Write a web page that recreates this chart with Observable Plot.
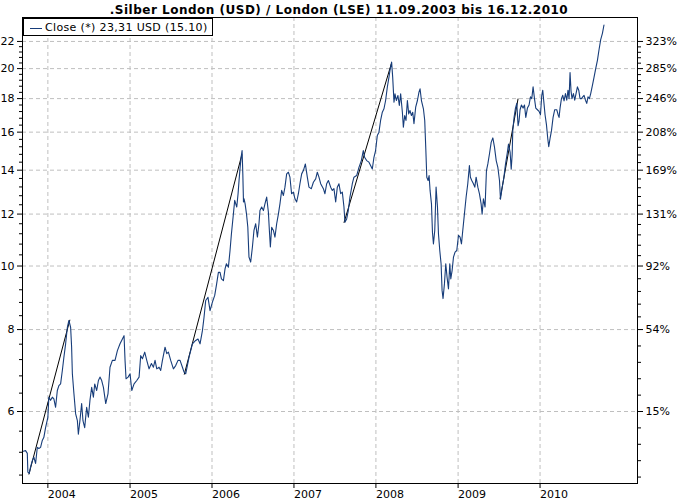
<!DOCTYPE html>
<html>
<head>
<meta charset="utf-8">
<script src="https://cdn.jsdelivr.net/npm/d3@7"></script>
<script src="https://cdn.jsdelivr.net/npm/@observablehq/plot@0.6"></script>
<style>
  html, body { margin: 0; padding: 0; background: #fff; }
  #wrap { position: relative; width: 678px; height: 501px; overflow: hidden; font-family: "DejaVu Sans", Verdana, sans-serif; }
  #title { position: absolute; left: 0; top: 3px; width: 678px; text-align: center; font-family: "DejaVu Sans", sans-serif; font-weight: bold; font-size: 12px; letter-spacing: 0.5px; line-height: 14px; color: #000; z-index: 2; white-space: nowrap; }
  #chart { position: absolute; left: 0; top: 14px; }
  #legend { position: absolute; left: 23px; top: 18px; width: 190px; height: 18px; box-sizing: border-box; border: 1px solid #000; background: #fff; z-index: 3; color: #000; }
  #legend .swatch { position: absolute; left: 6px; top: 9px; width: 12px; height: 1px; background: #173d7a; }
  #legendText { position: absolute; left: 21px; top: 2px; font-family: "DejaVu Sans", sans-serif; font-size: 11px; letter-spacing: 0.35px; line-height: 13px; white-space: nowrap; }
</style>
</head>
<body>
<div id="wrap">
  <div id="title"></div>
  <div id="chart"></div>
  <div id="legend"><span class="swatch"></span><span id="legendText"></span></div>
</div>
<script>
// ---- Texts ----
const titleText = ".Silber London (USD) / London (LSE) 11.09.2003 bis 16.12.2010";
const legendLabel = "Close (*) 23,31 USD (15.10)";

// ---- Axis ticks ----
const yearTicks = [2004, 2005, 2006, 2007, 2008, 2009, 2010];
const priceTicks = [6, 8, 10, 12, 14, 16, 18, 20, 22];
const percentBase = 5.2; // price that corresponds to 0 % on the right axis
const xDomain = ["2003-09-10", "2011-03-11"];
const yDomain = [4.66, 23.93];

// ---- Close prices: [decimal year, USD] ----
const close2003 = [[2003.700,5.22],[2003.728,5.23],[2003.749,5.18],[2003.756,4.85],[2003.773,4.83],[2003.789,4.94],[2003.810,5.05],[2003.829,5.11],[2003.850,5.00],[2003.871,5.29],[2003.890,5.27],[2003.911,5.29],[2003.932,5.42],[2003.951,5.48],[2003.972,5.67]];
const close2004 = [[2004.000,5.88],[2004.012,6.31],[2004.033,6.24],[2004.054,6.31],[2004.073,6.27],[2004.094,6.09],[2004.115,6.46],[2004.134,6.57],[2004.155,6.61],[2004.176,6.93],[2004.195,7.26],[2004.216,7.61],[2004.237,8.06],[2004.256,8.26],[2004.277,8.06],[2004.289,7.52],[2004.298,6.85],[2004.317,6.39],[2004.338,5.95],[2004.359,5.81],[2004.371,5.54],[2004.390,5.81],[2004.411,6.17],[2004.427,5.81],[2004.448,5.67],[2004.472,6.09],[2004.493,5.88],[2004.512,6.24],[2004.533,6.53],[2004.554,6.31],[2004.570,6.61],[2004.594,6.46],[2004.615,6.69],[2004.634,6.77],[2004.655,6.69],[2004.676,6.53],[2004.704,6.17],[2004.732,6.39],[2004.756,7.01],[2004.785,7.18],[2004.817,7.18],[2004.846,7.43],[2004.878,7.61],[2004.907,7.74],[2004.927,7.83],[2004.939,7.18],[2004.951,6.73],[2004.976,6.77]];
const close2005 = [[2005.000,6.85],[2005.021,6.46],[2005.049,6.61],[2005.082,6.69],[2005.110,6.77],[2005.130,7.30],[2005.151,7.22],[2005.179,7.39],[2005.204,7.18],[2005.232,6.97],[2005.261,7.10],[2005.285,7.01],[2005.305,7.18],[2005.326,6.97],[2005.354,7.01],[2005.374,6.93],[2005.395,7.18],[2005.415,7.39],[2005.427,7.52],[2005.448,7.35],[2005.468,7.39],[2005.496,7.18],[2005.529,6.97],[2005.557,7.05],[2005.585,7.18],[2005.610,7.18],[2005.639,7.01],[2005.659,6.89],[2005.679,6.85],[2005.720,7.26],[2005.761,7.61],[2005.801,7.70],[2005.829,7.74],[2005.854,7.61],[2005.883,7.97],[2005.902,8.34],[2005.923,8.86],[2005.951,8.96],[2005.976,8.55]];
const close2006 = [[2006.005,8.81],[2006.033,9.02],[2006.057,9.40],[2006.078,9.78],[2006.098,9.78],[2006.115,9.56],[2006.139,9.50],[2006.159,9.90],[2006.176,10.08],[2006.200,9.96],[2006.220,10.56],[2006.237,11.20],[2006.257,11.87],[2006.277,12.59],[2006.302,12.30],[2006.318,12.89],[2006.330,13.50],[2006.343,14.14],[2006.355,14.65],[2006.367,15.00],[2006.376,13.82],[2006.384,12.52],[2006.391,12.66],[2006.404,12.44],[2006.421,12.00],[2006.437,11.46],[2006.451,10.32],[2006.472,10.14],[2006.493,10.69],[2006.512,11.33],[2006.533,11.60],[2006.554,11.07],[2006.573,11.60],[2006.585,12.15],[2006.606,12.30],[2006.627,12.15],[2006.646,12.44],[2006.667,12.74],[2006.688,12.08],[2006.700,11.33],[2006.712,10.69],[2006.728,11.46],[2006.749,11.33],[2006.768,11.07],[2006.789,11.60],[2006.810,12.00],[2006.829,12.44],[2006.850,13.04],[2006.871,12.81],[2006.890,13.19],[2006.911,13.82],[2006.932,13.90],[2006.951,13.66],[2006.971,12.89],[2006.993,12.96]];
const close2007 = [[2007.012,12.66],[2007.033,12.52],[2007.054,12.89],[2007.073,13.35],[2007.094,13.82],[2007.115,13.98],[2007.139,14.31],[2007.163,13.66],[2007.183,13.19],[2007.212,13.12],[2007.237,13.42],[2007.265,13.58],[2007.285,13.90],[2007.305,13.66],[2007.326,13.35],[2007.359,13.12],[2007.378,12.89],[2007.399,13.35],[2007.420,13.50],[2007.448,13.19],[2007.468,13.04],[2007.488,13.12],[2007.509,12.52],[2007.529,13.19],[2007.549,13.35],[2007.570,12.89],[2007.590,12.96],[2007.610,12.30],[2007.622,11.66],[2007.643,11.80],[2007.663,12.15],[2007.683,12.74],[2007.712,13.35],[2007.732,13.66],[2007.765,13.74],[2007.793,14.14],[2007.822,14.48],[2007.846,15.00],[2007.862,14.65],[2007.887,14.48],[2007.915,14.40],[2007.935,14.23],[2007.956,14.06],[2007.976,14.65],[2007.996,15.00]];
const close2008 = [[2008.017,15.81],[2008.037,16.00],[2008.057,16.67],[2008.078,17.16],[2008.098,17.37],[2008.118,17.88],[2008.139,18.75],[2008.159,19.41],[2008.171,19.87],[2008.191,20.46],[2008.204,19.41],[2008.220,17.77],[2008.232,18.30],[2008.249,17.88],[2008.268,18.20],[2008.285,17.57],[2008.301,18.30],[2008.322,17.16],[2008.334,16.28],[2008.350,16.96],[2008.366,16.67],[2008.383,17.88],[2008.399,17.06],[2008.415,17.26],[2008.432,16.96],[2008.448,17.16],[2008.463,16.48],[2008.484,17.47],[2008.505,17.88],[2008.524,18.41],[2008.537,18.63],[2008.554,17.88],[2008.578,17.37],[2008.594,16.67],[2008.607,15.09],[2008.619,13.66],[2008.635,13.50],[2008.647,13.74],[2008.659,13.04],[2008.676,12.44],[2008.688,11.26],[2008.700,10.81],[2008.716,11.33],[2008.732,13.19],[2008.749,12.30],[2008.761,11.20],[2008.777,10.56],[2008.793,10.08],[2008.805,9.18],[2008.817,8.92],[2008.834,9.40],[2008.850,10.08],[2008.866,9.61],[2008.883,9.23],[2008.899,10.08],[2008.911,9.56],[2008.927,9.84],[2008.944,10.32],[2008.963,10.50],[2008.984,10.56]];
const close2009 = [[2009.005,11.14],[2009.024,11.07],[2009.041,10.81],[2009.057,11.33],[2009.077,12.00],[2009.098,12.74],[2009.118,13.35],[2009.138,14.23],[2009.150,13.66],[2009.167,13.50],[2009.187,13.35],[2009.204,13.19],[2009.220,13.66],[2009.241,13.19],[2009.260,12.89],[2009.281,12.44],[2009.293,12.00],[2009.309,12.66],[2009.329,12.30],[2009.346,13.98],[2009.363,14.31],[2009.383,14.83],[2009.404,15.45],[2009.424,15.68],[2009.444,15.18],[2009.465,14.48],[2009.485,14.14],[2009.505,13.50],[2009.517,12.64],[2009.537,13.15],[2009.558,13.63],[2009.578,14.29],[2009.598,14.81],[2009.615,15.34],[2009.635,14.90],[2009.648,14.05],[2009.660,14.81],[2009.667,16.07],[2009.683,16.85],[2009.700,17.41],[2009.716,17.70],[2009.732,16.37],[2009.744,16.65],[2009.756,17.31],[2009.773,17.60],[2009.793,17.41],[2009.810,17.60],[2009.826,16.85],[2009.846,17.41],[2009.866,17.60],[2009.883,18.11],[2009.899,18.00],[2009.915,18.76],[2009.932,18.00],[2009.948,17.41],[2009.968,17.31],[2009.988,17.21]];
const close2010 = [[2010.005,17.01],[2010.021,18.21],[2010.033,18.54],[2010.045,17.86],[2010.061,17.01],[2010.078,16.43],[2010.094,15.65],[2010.106,15.20],[2010.122,15.65],[2010.139,16.07],[2010.159,16.85],[2010.179,17.31],[2010.204,17.31],[2010.220,17.01],[2010.232,16.85],[2010.244,17.41],[2010.261,18.00],[2010.277,18.21],[2010.293,17.86],[2010.310,18.32],[2010.326,17.90],[2010.341,18.54],[2010.354,18.00],[2010.366,19.73],[2010.378,18.48],[2010.390,18.00],[2010.407,18.32],[2010.423,17.90],[2010.439,18.32],[2010.456,18.76],[2010.472,18.54],[2010.488,18.00],[2010.505,18.00],[2010.521,18.11],[2010.537,18.21],[2010.554,17.90],[2010.570,17.70],[2010.585,18.11],[2010.602,18.00],[2010.618,18.32],[2010.639,18.86],[2010.659,19.41],[2010.679,20.00],[2010.700,20.59],[2010.720,21.39],[2010.740,22.14],[2010.761,22.64],[2010.780,23.31]];

// ---- Trend lines (black) ----
const trendFromYear = [2003.768, 2005.661, 2007.610, 2009.512];
const trendFromValue = [4.81, 6.83, 11.64, 12.65];
const trendToYear = [2004.268, 2006.365, 2008.188, 2009.732];
const trendToValue = [8.28, 14.79, 20.35, 18.00];

// ---- helpers ----
function toDate(y) {
  const yr = Math.floor(y);
  const a = Date.UTC(yr, 0, 1), b = Date.UTC(yr + 1, 0, 1);
  return new Date(a + (y - yr) * (b - a));
}
const series = [close2003, close2004, close2005, close2006, close2007, close2008, close2009, close2010]
  .flat().map(([y, v]) => ({date: toDate(y), close: v}));
const trends = trendFromYear.map((y, i) => ({
  x1: toDate(y), y1: trendFromValue[i], x2: toDate(trendToYear[i]), y2: trendToValue[i]
}));
const yearDates = yearTicks.map(y => new Date(Date.UTC(y, 0, 1)));

// minor ticks: left every 0.4, right as fifths between majors
const leftMinor = d3.range(12, 60).map(k => +(k * 0.4).toFixed(1))
  .filter(v => v >= yDomain[0] && v <= 22 && !priceTicks.includes(v));
const rightMinor = [];
for (let i = 0; i < priceTicks.length - 1; i++) {
  const a = priceTicks[i], b = priceTicks[i + 1];
  for (let k = 1; k < 5; k++) rightMinor.push(a * Math.pow(b / a, k / 5));
}
for (let k = 1; k < 5; k++) {
  const v = priceTicks[0] * Math.pow(priceTicks[0] / priceTicks[1], k / 5);
  if (v >= yDomain[0]) rightMinor.push(v);
}

const gridColor = "#bfbfbf";
const lineColor = "#173d7a";

document.getElementById("title").textContent = titleText;
document.getElementById("legendText").textContent = legendLabel;

const chart = Plot.plot({
  width: 678,
  height: 487,
  marginTop: 3,
  marginBottom: 18,
  marginLeft: 22,
  marginRight: 41,
  style: {fontFamily: "'DejaVu Sans', Verdana, sans-serif", fontSize: "11px", background: "white", color: "black"},
  x: {type: "utc", domain: xDomain.map(d => new Date(d))},
  y: {type: "log", domain: yDomain},
  marks: [
    Plot.gridY(priceTicks, {stroke: gridColor, strokeOpacity: 1, strokeDasharray: "4,3"}),
    Plot.gridX(yearDates, {stroke: gridColor, strokeOpacity: 1, strokeDasharray: "4,3"}),
    Plot.axisX(yearDates, {tickSize: 5, tickPadding: 2, textAnchor: "start", tickFormat: d3.utcFormat("%Y"), label: null, fontSize: 11}),
    Plot.axisY(priceTicks, {anchor: "left", tickSize: 5, tickPadding: 3, tickFormat: d => String(d), label: null, fontSize: 11}),
    Plot.axisY(leftMinor, {anchor: "left", tickSize: 3, tickFormat: () => "", label: null}),
    Plot.axisY(priceTicks, {anchor: "right", tickSize: 5, tickPadding: 3, tickFormat: d => Math.round((d / percentBase - 1) * 100) + "%", label: null, fontSize: 11}),
    Plot.axisY(rightMinor, {anchor: "right", tickSize: 3, tickFormat: () => "", label: null}),
    Plot.link(trends, {x1: "x1", y1: "y1", x2: "x2", y2: "y2", stroke: "black", strokeWidth: 1}),
    Plot.line(series, {x: "date", y: "close", stroke: lineColor, strokeWidth: 1.1}),
    Plot.frame({stroke: "black", strokeWidth: 1})
  ]
});
document.getElementById("chart").appendChild(chart);
</script>
</body>
</html>
